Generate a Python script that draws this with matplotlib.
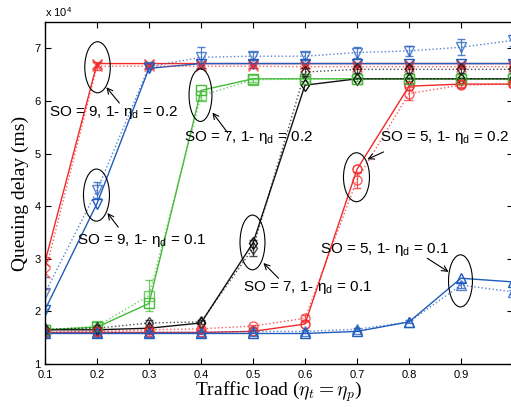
import matplotlib
matplotlib.use("Agg")
import matplotlib.pyplot as plt
from matplotlib.patches import Ellipse

# ---- data (queuing delay in ms) ----
load = [0.1, 0.2, 0.3, 0.4, 0.5, 0.6, 0.7, 0.8, 0.9, 1.0]
SCALE = 1e4

so9_02_solid = [29400, 67100, 67100, 67100, 67100, 67100, 67100, 67100, 67100, 67100]
so9_02_dot = [27300, 66600, 66600, 66600, 66600, 66500, 66500, 66500, 66500, 66500]
so9_02_err = [3000, 800, 300, 300, 300, 300, 400, 400, 300, 300]

so9_01_solid = [20300, 40500, 66200, 67100, 67100, 67100, 67100, 67100, 67100, 67100]
so9_01_dot = [23500, 43000, 66500, 68300, 68500, 68500, 69200, 69500, 70200, 71500]
so9_01_err = [3000, 1500, 500, 2000, 800, 800, 1000, 1000, 1500, 1000]

so7_02_solid = [16500, 17000, 21500, 62000, 64200, 64200, 64200, 64200, 64200, 64200]
so7_02_dot = [16500, 17200, 23000, 61000, 64000, 64200, 64200, 64200, 64200, 64200]
so7_02_err = [300, 300, 3000, 800, 400, 400, 400, 400, 400, 400]

so7_01_solid = [16500, 16500, 16800, 17800, 33000, 63000, 64200, 64200, 64200, 64200]
so7_01_dot = [16600, 16800, 17800, 18000, 32000, 65500, 66000, 66000, 66000, 66000]
so7_01_err = [300, 300, 500, 400, 1500, 800, 600, 600, 600, 600]

so5_02_solid = [16000, 16000, 16000, 16000, 16200, 17600, 47000, 62800, 63200, 63200]
so5_02_dot = [16000, 16200, 16500, 16700, 17200, 18700, 45000, 61400, 63000, 63200]
so5_02_err = [300, 300, 300, 300, 300, 600, 1500, 1200, 400, 400]

so5_01_solid = [15800, 15800, 15800, 15800, 15800, 15800, 16200, 18000, 26300, 25600]
so5_01_dot = [16000, 16000, 16000, 16000, 16200, 16200, 16600, 18000, 25000, 23700]
so5_01_err = [300, 300, 300, 300, 300, 300, 300, 300, 500, 400]

RED, BLUE, GREEN, BLACK = "#f22a2a", "#1f5cbc", "#46bb38", "#111111"

SERIES = [
    (so9_02_solid, so9_02_dot, so9_02_err, RED, "x"),
    (so9_01_solid, so9_01_dot, so9_01_err, BLUE, "v"),
    (so7_02_solid, so7_02_dot, so7_02_err, GREEN, "s"),
    (so7_01_solid, so7_01_dot, so7_01_err, BLACK, "d"),
    (so5_02_solid, so5_02_dot, so5_02_err, RED, "o"),
    (so5_01_solid, so5_01_dot, so5_01_err, BLUE, "^"),
]

# (text, text-left xy, ellipse centre, ellipse w/h, arrow tail, arrow head)
NOTES = [
    ("SO = 9, 1- ", "0.2", (0.108, 5.78), (0.201, 6.64), (0.049, 0.97), (0.243, 5.96), (0.218, 6.26)),
    ("SO = 9, 1- ", "0.1", (0.162, 3.35), (0.199, 4.21), (0.050, 0.99), (0.241, 3.60), (0.220, 3.87)),
    ("SO = 7, 1- ", "0.2", (0.368, 5.31), (0.399, 6.11), (0.044, 1.00), (0.451, 5.40), (0.422, 5.78)),
    ("SO = 7, 1- ", "0.1", (0.480, 2.46), (0.499, 3.31), (0.048, 1.04), (0.549, 2.63), (0.520, 2.92)),
    ("SO = 5, 1- ", "0.2", (0.745, 5.31), (0.699, 4.55), (0.050, 0.93), (0.751, 5.03), (0.720, 4.89)),
    ("SO = 5, 1- ", "0.1", (0.628, 3.18), (0.899, 2.58), (0.046, 0.99), (0.835, 3.01), (0.876, 2.75)),
]

plt.rcParams["font.family"] = ["Liberation Sans", "DejaVu Sans"]
plt.rcParams["mathtext.fontset"] = "cm"

fig = plt.figure(figsize=(5.11, 4.07), dpi=100)
ax = fig.add_axes([45 / 511, 1 - 364 / 407, 468 / 511, 342 / 407])

for solid, dot, err, col, mk in SERIES:
    ys = [v / SCALE for v in solid]
    yd = [v / SCALE for v in dot]
    ye = [v / SCALE for v in err]
    ax.errorbar(load, yd, yerr=ye, color=col, ls=":", lw=1.0, marker=mk, ms=6.5,
                mfc="none", mew=1.0, capsize=3, elinewidth=0.9, alpha=0.75)
    ax.plot(load, ys, color=col, ls="-", lw=1.0, marker=mk, ms=6.5, mfc="none", mew=1.0)

for head, val, txy, cen, wh, tail, tip in NOTES:
    ax.add_patch(Ellipse(cen, wh[0], wh[1], fill=False, ec="black", lw=0.8, zorder=5))
    ax.text(txy[0], txy[1], head + "\u03b7" + r"$_\mathregular{d}$" + " = " + val, fontsize=11,
            ha="left", va="center", math_fontfamily="dejavusans", zorder=6)
    ax.annotate("", xy=tip, xytext=tail,
                arrowprops=dict(arrowstyle="->", lw=0.8, color="black", shrinkA=0, shrinkB=0))

ax.set_xlim(0.1, 1.0)
ax.set_ylim(1, 7.5)
ax.set_xticks(load)
ax.set_xticklabels(["0.1", "0.2", "0.3", "0.4", "0.5", "0.6", "0.7", "0.8", "0.9", "1"])
ax.set_yticks([1, 2, 3, 4, 5, 6, 7])
ax.tick_params(direction="in", top=True, right=True, length=4.5, width=0.8,
               labelsize=8, pad=3)
ax.tick_params(axis="x", pad=4)
for s in ax.spines.values():
    s.set_linewidth(1.0)

ax.set_xlabel(r"Traffic load ($\eta_t = \eta_p$)", fontsize=14,
              family="Liberation Serif", labelpad=0)
ax.set_ylabel("Queuing delay (ms)", fontsize=14, family="Liberation Serif", labelpad=4)
fig.text(45 / 511, 1 - 12 / 407, r"x 10$^\mathregular{4}$", fontsize=8, ha="left", va="center",
         math_fontfamily="dejavusans")

fig.savefig("out.png", dpi=100)
